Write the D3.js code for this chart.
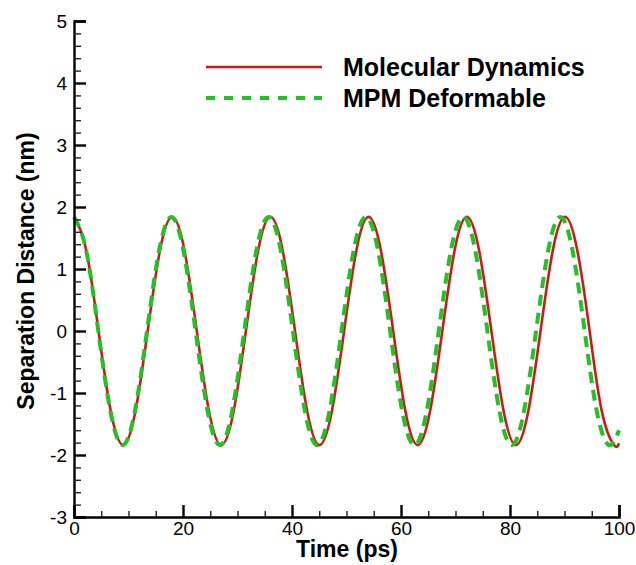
<!DOCTYPE html>
<html>
<head>
<meta charset="utf-8">
<script src="https://cdn.jsdelivr.net/npm/d3@7"></script>
<style>
  html, body { margin: 0; padding: 0; background: #fff; }
  svg { display: block; }
  text { font-family: "Liberation Sans", Arial, Helvetica, sans-serif; fill: #000; }
</style>
</head>
<body>
<svg id="chart" width="636" height="565"></svg>
<script>
// Molecular Dynamics separation distance samples (time in ps, distance in nm)
const mdTime = [0, 2.25, 4.5, 6.76, 9.01, 11.26, 13.52, 15.77, 18.02, 20.27, 22.53, 24.78,
  27.03, 29.28, 31.54, 33.79, 36.04, 38.29, 40.55, 42.8, 45.05, 47.3, 49.56, 51.81,
  54.06, 56.31, 58.57, 60.82, 63.07, 65.32, 67.58, 69.83, 72.08, 74.33, 76.59, 78.84,
  81.09, 83.34, 85.6, 87.85, 90.1, 92.35, 94.61, 96.86, 99.11, 100];
const mdDist = [1.84, 1.3, 0, -1.3, -1.84, -1.3, 0, 1.3, 1.84, 1.3, 0, -1.3,
  -1.84, -1.3, 0, 1.3, 1.84, 1.3, 0, -1.3, -1.84, -1.3, 0, 1.3,
  1.84, 1.3, 0, -1.3, -1.84, -1.3, 0, 1.3, 1.84, 1.3, 0, -1.3,
  -1.84, -1.3, 0, 1.3, 1.84, 1.3, 0, -1.3, -1.84, -1.81];

// MPM Deformable separation distance samples
const mpmTime = [0, 2.23, 4.46, 6.69, 8.92, 11.16, 13.39, 15.62, 17.85, 20.08, 22.31, 24.54,
  26.77, 29.0, 31.24, 33.47, 35.7, 37.93, 40.16, 42.39, 44.62, 46.86, 49.09, 51.32,
  53.54, 55.78, 58.01, 60.24, 62.47, 64.7, 66.93, 69.16, 71.39, 73.62, 75.85, 78.08,
  80.32, 82.55, 84.78, 87.01, 89.24, 91.47, 93.7, 95.93, 98.16, 100];
const mpmDist = [1.84, 1.3, 0, -1.3, -1.84, -1.3, 0, 1.3, 1.84, 1.3, 0, -1.3,
  -1.84, -1.3, 0, 1.3, 1.84, 1.3, 0, -1.3, -1.84, -1.3, 0, 1.3,
  1.84, 1.3, 0, -1.3, -1.84, -1.3, 0, 1.3, 1.84, 1.3, 0, -1.3,
  -1.84, -1.3, 0, 1.3, 1.84, 1.3, 0, -1.3, -1.84, -1.6];

const seriesNames = ["Molecular Dynamics", "MPM Deformable"];
const xTicks = [0, 20, 40, 60, 80, 100];
const yTicks = [-3, -2, -1, 0, 1, 2, 3, 4, 5];
const xDomain = [0, 100];
const yDomain = [-3, 5];

const svg = d3.select("#chart");
const plotLeft = 74, plotRight = 619, plotTop = 21, plotBottom = 517;

const x = d3.scaleLinear().domain(xDomain).range([plotLeft, plotRight]);
const y = d3.scaleLinear().domain(yDomain).range([plotBottom, plotTop]);

// Curves
const line = d3.line().x(d => x(d[0])).y(d => y(d[1])).curve(d3.curveNatural);
const md = d3.zip(mdTime, mdDist);
const mpm = d3.zip(mpmTime, mpmDist);

svg.append("path").datum(md)
  .attr("d", line).attr("fill", "none")
  .attr("stroke", "#cc1a1a").attr("stroke-width", 2.6);

svg.append("path").datum(mpm)
  .attr("d", line).attr("fill", "none")
  .attr("stroke", "#1ec51e").attr("stroke-width", 4)
  .attr("stroke-dasharray", "11,7");

// Axes: ticks point into the plot, labels use a plain hyphen for negatives
const plainFormat = d => String(d);
const xMinor = d3.range(0, 101, 5).filter(v => v % 20 !== 0);
const yMinor = d3.range(-3, 5.001, 0.2).map(v => +v.toFixed(1)).filter(v => Math.abs(v - Math.round(v)) > 1e-6);

const xAxis = svg.append("g").attr("transform", `translate(0,${plotBottom})`)
  .call(d3.axisBottom(x).tickValues(xTicks).tickSize(-12).tickPadding(5).tickFormat(plainFormat));
const xAxisMinor = svg.append("g").attr("transform", `translate(0,${plotBottom})`)
  .call(d3.axisBottom(x).tickValues(xMinor).tickSize(-6).tickFormat(""));

const yAxis = svg.append("g").attr("transform", `translate(${plotLeft},0)`)
  .call(d3.axisLeft(y).tickValues(yTicks).tickSize(-12).tickPadding(7).tickFormat(plainFormat));
const yAxisMinor = svg.append("g").attr("transform", `translate(${plotLeft},0)`)
  .call(d3.axisLeft(y).tickValues(yMinor).tickSize(-7).tickFormat(""));

[xAxis, yAxis].forEach(g => {
  g.select(".domain").attr("stroke", "#000").attr("stroke-width", 2.4);
  g.selectAll(".tick line").attr("stroke", "#000").attr("stroke-width", 2.4);
  g.selectAll(".tick text").attr("font-size", 19).attr("font-family", "Liberation Sans, Arial, sans-serif").attr("fill", "#000");
});
[xAxisMinor, yAxisMinor].forEach(g => {
  g.select(".domain").remove();
  g.selectAll(".tick line").attr("stroke", "#222").attr("stroke-width", 1.4);
});

// Axis titles
svg.append("text").attr("x", 347).attr("y", 557)
  .attr("text-anchor", "middle").attr("font-size", 23).attr("font-weight", "bold")
  .text("Time (ps)");
svg.append("text").attr("transform", "translate(34,271) rotate(-90)")
  .attr("text-anchor", "middle").attr("font-size", 23).attr("font-weight", "bold")
  .text("Separation Distance (nm)");

// Legend
const legend = svg.append("g");
const legendRows = [
  { name: seriesNames[0], color: "#cc1a1a", width: 2.6, dash: null, y: 67 },
  { name: seriesNames[1], color: "#1ec51e", width: 4, dash: "9,9", y: 98 }
];
legendRows.forEach(r => {
  legend.append("line").attr("x1", 206).attr("x2", 322).attr("y1", r.y).attr("y2", r.y)
    .attr("stroke", r.color).attr("stroke-width", r.width)
    .attr("stroke-dasharray", r.dash);
  legend.append("text").attr("x", 343).attr("y", r.y).attr("dy", "0.36em")
    .attr("font-size", 25).attr("font-weight", "bold").text(r.name);
});
</script>
</body>
</html>
